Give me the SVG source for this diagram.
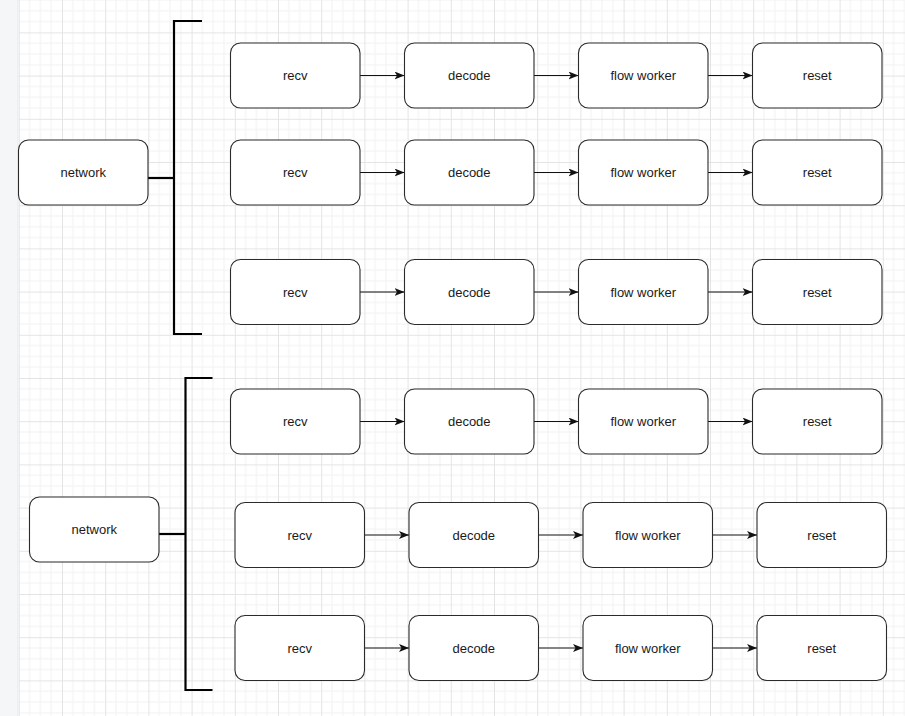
<svg xmlns="http://www.w3.org/2000/svg" width="905" height="716" viewBox="0 0 905 716">
<style>
.box{fill:#ffffff;stroke:#2b2b2b;stroke-width:1.1}
.lbl{font-family:"Liberation Sans",Arial,sans-serif;font-size:13px;fill:#1a1a1a;text-anchor:middle}
.arr{stroke:#111;stroke-width:1.1;fill:none;marker-end:url(#ah)}
.br{stroke:#000;stroke-width:2.2;fill:none}
</style>
<defs>
<pattern id="grid" patternUnits="userSpaceOnUse" x="18.8" y="-10.8" width="43.2" height="43.2">
<path d="M10.8 0V43.2M21.6 0V43.2M32.4 0V43.2M0 10.8H43.2M0 21.6H43.2M0 32.4H43.2" stroke="#f2f2f2" stroke-width="1" fill="none"/>
<path d="M0.5 0V43.2M0 0.5H43.2" stroke="#e4e4e4" stroke-width="1" fill="none"/>
</pattern>
<marker id="ah" markerUnits="userSpaceOnUse" markerWidth="11" markerHeight="9" refX="10" refY="4" orient="auto">
<path d="M0,0 L10,4 L0,8 L2.5,4 Z" fill="#111"/>
</marker>
</defs>
<rect x="0" y="0" width="905" height="716" fill="#ffffff"/>
<rect x="18.5" y="0" width="886.5" height="716" fill="url(#grid)"/>
<rect x="0" y="0" width="18" height="716" fill="#f5f6f8"/>
<line x1="18" y1="0" x2="18" y2="716" stroke="#e8e9ec" stroke-width="1"/>

<g id="connectors">
<path class="br" d="M202 21H174V334H202"/>
<path class="br" d="M148 178H174"/>
<path class="br" d="M212.5 378H185.5V690H212.5"/>
<path class="br" d="M159 534H185.5"/>
<line class="arr" x1="360" y1="75.5" x2="404.5" y2="75.5"/>
<line class="arr" x1="534" y1="75.5" x2="578.5" y2="75.5"/>
<line class="arr" x1="708" y1="75.5" x2="752.5" y2="75.5"/>
<line class="arr" x1="360" y1="172.5" x2="404.5" y2="172.5"/>
<line class="arr" x1="534" y1="172.5" x2="578.5" y2="172.5"/>
<line class="arr" x1="708" y1="172.5" x2="752.5" y2="172.5"/>
<line class="arr" x1="360" y1="292" x2="404.5" y2="292"/>
<line class="arr" x1="534" y1="292" x2="578.5" y2="292"/>
<line class="arr" x1="708" y1="292" x2="752.5" y2="292"/>
<line class="arr" x1="360" y1="421.5" x2="404.5" y2="421.5"/>
<line class="arr" x1="534" y1="421.5" x2="578.5" y2="421.5"/>
<line class="arr" x1="708" y1="421.5" x2="752.5" y2="421.5"/>
<line class="arr" x1="364.5" y1="535" x2="409" y2="535"/>
<line class="arr" x1="538.5" y1="535" x2="583" y2="535"/>
<line class="arr" x1="712.5" y1="535" x2="757" y2="535"/>
<line class="arr" x1="364.5" y1="648" x2="409" y2="648"/>
<line class="arr" x1="538.5" y1="648" x2="583" y2="648"/>
<line class="arr" x1="712.5" y1="648" x2="757" y2="648"/>
</g>

<g id="network1"><rect class="box" x="18.5" y="140" width="129.5" height="65" rx="10"/><text class="lbl" x="83.25" y="177">network</text></g>
<g id="network2"><rect class="box" x="29.5" y="497" width="129.5" height="65" rx="10"/><text class="lbl" x="94.25" y="534">network</text></g>

<g id="recv1"><rect class="box" x="230.5" y="43" width="129.5" height="65" rx="10"/><text class="lbl" x="295.25" y="80">recv</text></g>
<g id="decode1"><rect class="box" x="404.5" y="43" width="129.5" height="65" rx="10"/><text class="lbl" x="469.25" y="80">decode</text></g>
<g id="flow1"><rect class="box" x="578.5" y="43" width="129.5" height="65" rx="10"/><text class="lbl" x="643.25" y="80">flow worker</text></g>
<g id="reset1"><rect class="box" x="752.5" y="43" width="129.5" height="65" rx="10"/><text class="lbl" x="817.25" y="80">reset</text></g>

<g id="recv2"><rect class="box" x="230.5" y="140" width="129.5" height="65" rx="10"/><text class="lbl" x="295.25" y="177">recv</text></g>
<g id="decode2"><rect class="box" x="404.5" y="140" width="129.5" height="65" rx="10"/><text class="lbl" x="469.25" y="177">decode</text></g>
<g id="flow2"><rect class="box" x="578.5" y="140" width="129.5" height="65" rx="10"/><text class="lbl" x="643.25" y="177">flow worker</text></g>
<g id="reset2"><rect class="box" x="752.5" y="140" width="129.5" height="65" rx="10"/><text class="lbl" x="817.25" y="177">reset</text></g>

<g id="recv3"><rect class="box" x="230.5" y="259.5" width="129.5" height="65" rx="10"/><text class="lbl" x="295.25" y="296.5">recv</text></g>
<g id="decode3"><rect class="box" x="404.5" y="259.5" width="129.5" height="65" rx="10"/><text class="lbl" x="469.25" y="296.5">decode</text></g>
<g id="flow3"><rect class="box" x="578.5" y="259.5" width="129.5" height="65" rx="10"/><text class="lbl" x="643.25" y="296.5">flow worker</text></g>
<g id="reset3"><rect class="box" x="752.5" y="259.5" width="129.5" height="65" rx="10"/><text class="lbl" x="817.25" y="296.5">reset</text></g>

<g id="recv4"><rect class="box" x="230.5" y="389" width="129.5" height="65" rx="10"/><text class="lbl" x="295.25" y="426">recv</text></g>
<g id="decode4"><rect class="box" x="404.5" y="389" width="129.5" height="65" rx="10"/><text class="lbl" x="469.25" y="426">decode</text></g>
<g id="flow4"><rect class="box" x="578.5" y="389" width="129.5" height="65" rx="10"/><text class="lbl" x="643.25" y="426">flow worker</text></g>
<g id="reset4"><rect class="box" x="752.5" y="389" width="129.5" height="65" rx="10"/><text class="lbl" x="817.25" y="426">reset</text></g>

<g id="recv5"><rect class="box" x="235" y="502.5" width="129.5" height="65" rx="10"/><text class="lbl" x="299.75" y="539.5">recv</text></g>
<g id="decode5"><rect class="box" x="409" y="502.5" width="129.5" height="65" rx="10"/><text class="lbl" x="473.75" y="539.5">decode</text></g>
<g id="flow5"><rect class="box" x="583" y="502.5" width="129.5" height="65" rx="10"/><text class="lbl" x="647.75" y="539.5">flow worker</text></g>
<g id="reset5"><rect class="box" x="757" y="502.5" width="129.5" height="65" rx="10"/><text class="lbl" x="821.75" y="539.5">reset</text></g>

<g id="recv6"><rect class="box" x="235" y="615.5" width="129.5" height="65" rx="10"/><text class="lbl" x="299.75" y="652.5">recv</text></g>
<g id="decode6"><rect class="box" x="409" y="615.5" width="129.5" height="65" rx="10"/><text class="lbl" x="473.75" y="652.5">decode</text></g>
<g id="flow6"><rect class="box" x="583" y="615.5" width="129.5" height="65" rx="10"/><text class="lbl" x="647.75" y="652.5">flow worker</text></g>
<g id="reset6"><rect class="box" x="757" y="615.5" width="129.5" height="65" rx="10"/><text class="lbl" x="821.75" y="652.5">reset</text></g>
</svg>
